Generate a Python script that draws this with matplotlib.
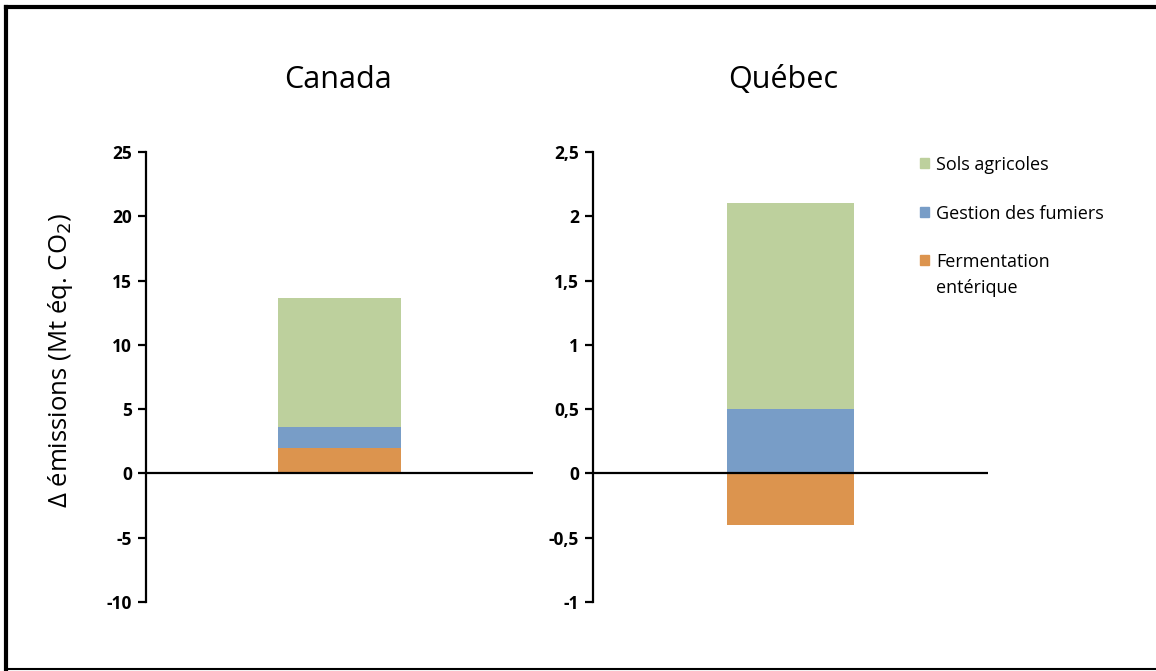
import numpy as np
import matplotlib
matplotlib.use("Agg")
import matplotlib.pyplot as plt
from matplotlib.lines import Line2D
from matplotlib.patches import Rectangle

# data
regions = ["Canada", "Québec"]
sources = ["Fermentation\nentérique", "Gestion des fumiers", "Sols agricoles"]
canada_vals = [2.0, 1.65, 10.0]
quebec_vals = [-0.4, 0.5, 1.6]
colors = ["#DC944E", "#789DC7", "#BDD09D"]

canada_ticks = [-10, -5, 0, 5, 10, 15, 20, 25]
canada_labels = ["-10", "-5", "0", "5", "10", "15", "20", "25"]
quebec_ticks = [-1, -0.5, 0, 0.5, 1, 1.5, 2, 2.5]
quebec_labels = ["-1", "-0,5", "0", "0,5", "1", "1,5", "2", "2,5"]

W, H = 1156, 671
fig = plt.figure(figsize=(W / 100, H / 100), dpi=100)
plt.rcParams['font.family'] = ['Open Sans', 'DejaVu Sans']


def px_axes(x0, x1, ytop, ybot):
    return fig.add_axes([x0 / W, (H - ybot) / H, (x1 - x0) / W, (ybot - ytop) / H])


def draw_stack(ax, vals, ticks, labels):
    pos_base, neg_base = 0.0, 0.0
    for v, c in zip(vals, colors):
        if v >= 0:
            ax.bar(0, v, width=0.32, bottom=pos_base, color=c, zorder=2)
            pos_base += v
        else:
            ax.bar(0, v, width=0.32, bottom=neg_base, color=c, zorder=2)
            neg_base += v
    ax.axhline(0, color="black", lw=1.6, zorder=3)
    ax.set_xlim(-0.5, 0.5)
    ax.set_ylim(ticks[0], ticks[-1])
    ax.set_yticks(ticks)
    ax.set_yticklabels(labels, fontsize=12.5, fontweight="bold")
    ax.set_xticks([])
    for s in ["top", "right", "bottom"]:
        ax.spines[s].set_visible(False)
    ax.spines["left"].set_linewidth(1.6)
    ax.tick_params(axis="y", direction="out", length=6, width=1.6, pad=4)


ax1 = px_axes(146, 533, 152, 602)
draw_stack(ax1, canada_vals, canada_ticks, canada_labels)
ax1.set_ylabel("Δ émissions (Mt éq. CO$_2$)", fontsize=18.5)
ax1.yaxis.label.set_va("center")
ax1.yaxis.set_label_coords((61 - 146) / 387, (602 - 360) / 450)

ax2 = px_axes(593, 988, 152, 602)
draw_stack(ax2, quebec_vals, quebec_ticks, quebec_labels)

fig.text(338 / W, 1 - 80 / H, regions[0], fontsize=22, ha="center", va="center")
fig.text(783 / W, 1 - 80 / H, regions[1], fontsize=22, ha="center", va="center")

# legend, drawn by hand (top item first)
leg_y = [163, 212, 260]
for lab, c, yc in zip(sources[::-1], colors[::-1], leg_y):
    fig.add_artist(Rectangle((920 / W, 1 - (yc + 5) / H), 9 / W, 10 / H,
                             color=c, transform=fig.transFigure))
    fig.text(936 / W, 1 - (yc - 7) / H, lab, fontsize=13, ha="left", va="top",
             linespacing=1.55)

# outer frame
fig.add_artist(Line2D([6 / W, 1], [1 - 7 / H, 1 - 7 / H], color="black", lw=3))
fig.add_artist(Line2D([6 / W, 6 / W], [1 - 7 / H, 1 - 669 / H], color="black", lw=3))
fig.add_artist(Line2D([6 / W, 1], [1 - 669 / H, 1 - 669 / H], color="black", lw=1.5))

fig.savefig("out.png", dpi=100)
